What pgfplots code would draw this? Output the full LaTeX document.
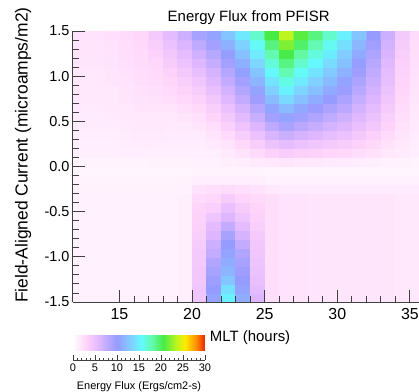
\documentclass[border=0pt]{standalone}
\usepackage{pgfplots}
\pgfplotsset{compat=1.18}
\usepackage{pgfplotstable}
\usepackage{fontspec}
\setmainfont{Liberation Sans}
\pgfplotstableread[row sep=\\]{
x y z\\
11.5 -1.45 1.0\\ 12.5 -1.45 1.0\\ 13.5 -1.45 1.0\\ 14.5 -1.45 1.0\\ 15.5 -1.45 1.0\\ 16.5 -1.45 1.0\\ 17.5 -1.45 1.0\\ 18.5 -1.45 1.0\\ 19.5 -1.45 1.1\\ 20.5 -1.45 4.5\\ 21.5 -1.45 10.5\\ 22.5 -1.45 15.0\\ 23.5 -1.45 11.0\\ 24.5 -1.45 6.0\\ 25.5 -1.45 2.3\\ 26.5 -1.45 2.0\\ 27.5 -1.45 2.0\\ 28.5 -1.45 1.9\\ 29.5 -1.45 1.8\\ 30.5 -1.45 1.8\\ 31.5 -1.45 1.8\\ 32.5 -1.45 1.8\\ 33.5 -1.45 1.8\\ 34.5 -1.45 1.7\\ 35.5 -1.45 1.7\\
11.5 -1.35 1.0\\ 12.5 -1.35 1.0\\ 13.5 -1.35 1.0\\ 14.5 -1.35 1.0\\ 15.5 -1.35 1.0\\ 16.5 -1.35 1.0\\ 17.5 -1.35 1.0\\ 18.5 -1.35 1.0\\ 19.5 -1.35 1.1\\ 20.5 -1.35 4.5\\ 21.5 -1.35 10.0\\ 22.5 -1.35 14.0\\ 23.5 -1.35 10.5\\ 24.5 -1.35 5.5\\ 25.5 -1.35 2.3\\ 26.5 -1.35 2.0\\ 27.5 -1.35 2.0\\ 28.5 -1.35 1.9\\ 29.5 -1.35 1.8\\ 30.5 -1.35 1.8\\ 31.5 -1.35 1.8\\ 32.5 -1.35 1.8\\ 33.5 -1.35 1.8\\ 34.5 -1.35 1.7\\ 35.5 -1.35 1.7\\
11.5 -1.25 1.0\\ 12.5 -1.25 1.0\\ 13.5 -1.25 1.0\\ 14.5 -1.25 1.0\\ 15.5 -1.25 1.0\\ 16.5 -1.25 1.0\\ 17.5 -1.25 1.0\\ 18.5 -1.25 1.0\\ 19.5 -1.25 1.1\\ 20.5 -1.25 4.3\\ 21.5 -1.25 9.5\\ 22.5 -1.25 12.5\\ 23.5 -1.25 10.0\\ 24.5 -1.25 5.0\\ 25.5 -1.25 2.3\\ 26.5 -1.25 2.0\\ 27.5 -1.25 2.0\\ 28.5 -1.25 1.9\\ 29.5 -1.25 1.8\\ 30.5 -1.25 1.8\\ 31.5 -1.25 1.8\\ 32.5 -1.25 1.8\\ 33.5 -1.25 1.8\\ 34.5 -1.25 1.7\\ 35.5 -1.25 1.7\\
11.5 -1.15 1.0\\ 12.5 -1.15 1.0\\ 13.5 -1.15 1.0\\ 14.5 -1.15 1.0\\ 15.5 -1.15 1.0\\ 16.5 -1.15 1.0\\ 17.5 -1.15 1.0\\ 18.5 -1.15 1.0\\ 19.5 -1.15 1.1\\ 20.5 -1.15 4.2\\ 21.5 -1.15 9.0\\ 22.5 -1.15 11.5\\ 23.5 -1.15 9.5\\ 24.5 -1.15 4.8\\ 25.5 -1.15 2.3\\ 26.5 -1.15 2.0\\ 27.5 -1.15 2.0\\ 28.5 -1.15 1.9\\ 29.5 -1.15 1.8\\ 30.5 -1.15 1.8\\ 31.5 -1.15 1.8\\ 32.5 -1.15 1.8\\ 33.5 -1.15 1.8\\ 34.5 -1.15 1.7\\ 35.5 -1.15 1.7\\
11.5 -1.05 1.0\\ 12.5 -1.05 1.0\\ 13.5 -1.05 1.0\\ 14.5 -1.05 1.0\\ 15.5 -1.05 1.0\\ 16.5 -1.05 1.0\\ 17.5 -1.05 1.0\\ 18.5 -1.05 1.0\\ 19.5 -1.05 1.1\\ 20.5 -1.05 4.0\\ 21.5 -1.05 8.5\\ 22.5 -1.05 11.0\\ 23.5 -1.05 9.0\\ 24.5 -1.05 4.6\\ 25.5 -1.05 2.3\\ 26.5 -1.05 2.0\\ 27.5 -1.05 2.0\\ 28.5 -1.05 1.9\\ 29.5 -1.05 1.8\\ 30.5 -1.05 1.8\\ 31.5 -1.05 1.8\\ 32.5 -1.05 1.8\\ 33.5 -1.05 1.8\\ 34.5 -1.05 1.7\\ 35.5 -1.05 1.7\\
11.5 -0.95 1.0\\ 12.5 -0.95 1.0\\ 13.5 -0.95 1.0\\ 14.5 -0.95 1.0\\ 15.5 -0.95 1.0\\ 16.5 -0.95 1.0\\ 17.5 -0.95 1.0\\ 18.5 -0.95 1.0\\ 19.5 -0.95 1.1\\ 20.5 -0.95 4.0\\ 21.5 -0.95 7.5\\ 22.5 -0.95 10.5\\ 23.5 -0.95 8.5\\ 24.5 -0.95 4.4\\ 25.5 -0.95 2.3\\ 26.5 -0.95 2.0\\ 27.5 -0.95 2.0\\ 28.5 -0.95 1.9\\ 29.5 -0.95 1.8\\ 30.5 -0.95 1.8\\ 31.5 -0.95 1.8\\ 32.5 -0.95 1.8\\ 33.5 -0.95 1.8\\ 34.5 -0.95 1.7\\ 35.5 -0.95 1.7\\
11.5 -0.85 1.0\\ 12.5 -0.85 1.0\\ 13.5 -0.85 1.0\\ 14.5 -0.85 1.0\\ 15.5 -0.85 1.0\\ 16.5 -0.85 1.0\\ 17.5 -0.85 1.0\\ 18.5 -0.85 1.0\\ 19.5 -0.85 1.1\\ 20.5 -0.85 3.8\\ 21.5 -0.85 7.0\\ 22.5 -0.85 10.0\\ 23.5 -0.85 7.5\\ 24.5 -0.85 4.2\\ 25.5 -0.85 2.3\\ 26.5 -0.85 2.0\\ 27.5 -0.85 2.0\\ 28.5 -0.85 1.9\\ 29.5 -0.85 1.8\\ 30.5 -0.85 1.8\\ 31.5 -0.85 1.8\\ 32.5 -0.85 1.8\\ 33.5 -0.85 1.8\\ 34.5 -0.85 1.7\\ 35.5 -0.85 1.7\\
11.5 -0.75 1.0\\ 12.5 -0.75 1.0\\ 13.5 -0.75 1.0\\ 14.5 -0.75 1.0\\ 15.5 -0.75 1.0\\ 16.5 -0.75 1.0\\ 17.5 -0.75 1.0\\ 18.5 -0.75 1.0\\ 19.5 -0.75 1.1\\ 20.5 -0.75 3.6\\ 21.5 -0.75 6.0\\ 22.5 -0.75 9.0\\ 23.5 -0.75 6.5\\ 24.5 -0.75 4.0\\ 25.5 -0.75 2.3\\ 26.5 -0.75 2.0\\ 27.5 -0.75 2.0\\ 28.5 -0.75 1.9\\ 29.5 -0.75 1.8\\ 30.5 -0.75 1.8\\ 31.5 -0.75 1.8\\ 32.5 -0.75 1.8\\ 33.5 -0.75 1.8\\ 34.5 -0.75 1.7\\ 35.5 -0.75 1.7\\
11.5 -0.65 1.0\\ 12.5 -0.65 1.0\\ 13.5 -0.65 1.0\\ 14.5 -0.65 1.0\\ 15.5 -0.65 1.0\\ 16.5 -0.65 1.0\\ 17.5 -0.65 1.0\\ 18.5 -0.65 1.0\\ 19.5 -0.65 1.1\\ 20.5 -0.65 3.4\\ 21.5 -0.65 5.5\\ 22.5 -0.65 7.5\\ 23.5 -0.65 5.5\\ 24.5 -0.65 3.6\\ 25.5 -0.65 2.3\\ 26.5 -0.65 2.0\\ 27.5 -0.65 2.0\\ 28.5 -0.65 1.9\\ 29.5 -0.65 1.8\\ 30.5 -0.65 1.8\\ 31.5 -0.65 1.8\\ 32.5 -0.65 1.8\\ 33.5 -0.65 1.8\\ 34.5 -0.65 1.7\\ 35.5 -0.65 1.7\\
11.5 -0.55 1.0\\ 12.5 -0.55 1.0\\ 13.5 -0.55 1.0\\ 14.5 -0.55 1.0\\ 15.5 -0.55 1.0\\ 16.5 -0.55 1.0\\ 17.5 -0.55 1.0\\ 18.5 -0.55 1.0\\ 19.5 -0.55 1.1\\ 20.5 -0.55 3.2\\ 21.5 -0.55 4.5\\ 22.5 -0.55 6.0\\ 23.5 -0.55 4.5\\ 24.5 -0.55 3.3\\ 25.5 -0.55 2.3\\ 26.5 -0.55 2.0\\ 27.5 -0.55 2.0\\ 28.5 -0.55 1.9\\ 29.5 -0.55 1.8\\ 30.5 -0.55 1.8\\ 31.5 -0.55 1.8\\ 32.5 -0.55 1.8\\ 33.5 -0.55 1.8\\ 34.5 -0.55 1.7\\ 35.5 -0.55 1.7\\
11.5 -0.45 1.0\\ 12.5 -0.45 1.0\\ 13.5 -0.45 1.0\\ 14.5 -0.45 1.0\\ 15.5 -0.45 1.0\\ 16.5 -0.45 1.0\\ 17.5 -0.45 1.0\\ 18.5 -0.45 1.0\\ 19.5 -0.45 1.1\\ 20.5 -0.45 3.0\\ 21.5 -0.45 3.5\\ 22.5 -0.45 5.0\\ 23.5 -0.45 3.8\\ 24.5 -0.45 3.0\\ 25.5 -0.45 2.3\\ 26.5 -0.45 2.0\\ 27.5 -0.45 2.0\\ 28.5 -0.45 1.9\\ 29.5 -0.45 1.8\\ 30.5 -0.45 1.8\\ 31.5 -0.45 1.8\\ 32.5 -0.45 1.8\\ 33.5 -0.45 1.8\\ 34.5 -0.45 1.7\\ 35.5 -0.45 1.7\\
11.5 -0.35 1.0\\ 12.5 -0.35 1.0\\ 13.5 -0.35 1.0\\ 14.5 -0.35 1.0\\ 15.5 -0.35 1.0\\ 16.5 -0.35 1.0\\ 17.5 -0.35 1.0\\ 18.5 -0.35 1.0\\ 19.5 -0.35 1.1\\ 20.5 -0.35 2.6\\ 21.5 -0.35 2.8\\ 22.5 -0.35 3.8\\ 23.5 -0.35 3.0\\ 24.5 -0.35 2.6\\ 25.5 -0.35 2.3\\ 26.5 -0.35 2.0\\ 27.5 -0.35 2.0\\ 28.5 -0.35 1.9\\ 29.5 -0.35 1.8\\ 30.5 -0.35 1.8\\ 31.5 -0.35 1.8\\ 32.5 -0.35 1.8\\ 33.5 -0.35 1.8\\ 34.5 -0.35 1.7\\ 35.5 -0.35 1.7\\
11.5 -0.25 0.9\\ 12.5 -0.25 0.9\\ 13.5 -0.25 0.9\\ 14.5 -0.25 0.9\\ 15.5 -0.25 0.9\\ 16.5 -0.25 0.9\\ 17.5 -0.25 0.9\\ 18.5 -0.25 0.9\\ 19.5 -0.25 1.0\\ 20.5 -0.25 2.0\\ 21.5 -0.25 2.2\\ 22.5 -0.25 2.5\\ 23.5 -0.25 2.2\\ 24.5 -0.25 2.0\\ 25.5 -0.25 1.6\\ 26.5 -0.25 1.4\\ 27.5 -0.25 1.4\\ 28.5 -0.25 1.4\\ 29.5 -0.25 1.4\\ 30.5 -0.25 1.4\\ 31.5 -0.25 1.4\\ 32.5 -0.25 1.4\\ 33.5 -0.25 1.4\\ 34.5 -0.25 1.4\\ 35.5 -0.25 1.4\\
11.5 -0.15 0.8\\ 12.5 -0.15 0.8\\ 13.5 -0.15 0.8\\ 14.5 -0.15 0.8\\ 15.5 -0.15 0.8\\ 16.5 -0.15 0.8\\ 17.5 -0.15 0.8\\ 18.5 -0.15 0.8\\ 19.5 -0.15 0.9\\ 20.5 -0.15 1.2\\ 21.5 -0.15 1.2\\ 22.5 -0.15 1.2\\ 23.5 -0.15 1.2\\ 24.5 -0.15 1.2\\ 25.5 -0.15 1.0\\ 26.5 -0.15 1.0\\ 27.5 -0.15 1.0\\ 28.5 -0.15 1.0\\ 29.5 -0.15 1.0\\ 30.5 -0.15 1.0\\ 31.5 -0.15 1.0\\ 32.5 -0.15 1.0\\ 33.5 -0.15 1.0\\ 34.5 -0.15 1.0\\ 35.5 -0.15 1.0\\
11.5 -0.05 0.7\\ 12.5 -0.05 0.7\\ 13.5 -0.05 0.7\\ 14.5 -0.05 0.7\\ 15.5 -0.05 0.7\\ 16.5 -0.05 0.7\\ 17.5 -0.05 0.7\\ 18.5 -0.05 0.7\\ 19.5 -0.05 0.7\\ 20.5 -0.05 0.8\\ 21.5 -0.05 0.8\\ 22.5 -0.05 0.8\\ 23.5 -0.05 0.8\\ 24.5 -0.05 0.8\\ 25.5 -0.05 0.7\\ 26.5 -0.05 0.7\\ 27.5 -0.05 0.7\\ 28.5 -0.05 0.7\\ 29.5 -0.05 0.7\\ 30.5 -0.05 0.7\\ 31.5 -0.05 0.7\\ 32.5 -0.05 0.7\\ 33.5 -0.05 0.7\\ 34.5 -0.05 0.7\\ 35.5 -0.05 0.7\\
11.5 0.05 0.8\\ 12.5 0.05 0.8\\ 13.5 0.05 0.8\\ 14.5 0.05 0.8\\ 15.5 0.05 0.8\\ 16.5 0.05 0.8\\ 17.5 0.05 0.9\\ 18.5 0.05 0.9\\ 19.5 0.05 0.9\\ 20.5 0.05 1.0\\ 21.5 0.05 1.0\\ 22.5 0.05 1.1\\ 23.5 0.05 1.3\\ 24.5 0.05 1.5\\ 25.5 0.05 1.7\\ 26.5 0.05 1.8\\ 27.5 0.05 1.7\\ 28.5 0.05 1.6\\ 29.5 0.05 1.5\\ 30.5 0.05 1.4\\ 31.5 0.05 1.3\\ 32.5 0.05 1.2\\ 33.5 0.05 1.0\\ 34.5 0.05 0.9\\ 35.5 0.05 0.8\\
11.5 0.15 1.1\\ 12.5 0.15 1.1\\ 13.5 0.15 1.1\\ 14.5 0.15 1.1\\ 15.5 0.15 1.2\\ 16.5 0.15 1.2\\ 17.5 0.15 1.2\\ 18.5 0.15 1.2\\ 19.5 0.15 1.2\\ 20.5 0.15 1.2\\ 21.5 0.15 1.2\\ 22.5 0.15 1.5\\ 23.5 0.15 2.0\\ 24.5 0.15 2.6\\ 25.5 0.15 3.3\\ 26.5 0.15 3.7\\ 27.5 0.15 3.4\\ 28.5 0.15 3.2\\ 29.5 0.15 2.9\\ 30.5 0.15 2.7\\ 31.5 0.15 2.4\\ 32.5 0.15 2.1\\ 33.5 0.15 1.7\\ 34.5 0.15 1.4\\ 35.5 0.15 1.2\\
11.5 0.25 1.2\\ 12.5 0.25 1.2\\ 13.5 0.25 1.2\\ 14.5 0.25 1.2\\ 15.5 0.25 1.3\\ 16.5 0.25 1.4\\ 17.5 0.25 1.3\\ 18.5 0.25 1.3\\ 19.5 0.25 1.3\\ 20.5 0.25 1.3\\ 21.5 0.25 1.5\\ 22.5 0.25 2.0\\ 23.5 0.25 2.7\\ 24.5 0.25 3.6\\ 25.5 0.25 4.7\\ 26.5 0.25 5.3\\ 27.5 0.25 4.8\\ 28.5 0.25 4.4\\ 29.5 0.25 4.0\\ 30.5 0.25 3.7\\ 31.5 0.25 3.2\\ 32.5 0.25 2.7\\ 33.5 0.25 2.1\\ 34.5 0.25 1.6\\ 35.5 0.25 1.3\\
11.5 0.35 1.3\\ 12.5 0.35 1.3\\ 13.5 0.35 1.3\\ 14.5 0.35 1.3\\ 15.5 0.35 1.4\\ 16.5 0.35 1.5\\ 17.5 0.35 1.5\\ 18.5 0.35 1.4\\ 19.5 0.35 1.4\\ 20.5 0.35 1.4\\ 21.5 0.35 1.9\\ 22.5 0.35 2.6\\ 23.5 0.35 3.6\\ 24.5 0.35 4.8\\ 25.5 0.35 6.3\\ 26.5 0.35 7.1\\ 27.5 0.35 6.4\\ 28.5 0.35 5.9\\ 29.5 0.35 5.3\\ 30.5 0.35 4.8\\ 31.5 0.35 4.1\\ 32.5 0.35 3.4\\ 33.5 0.35 2.6\\ 34.5 0.35 1.8\\ 35.5 0.35 1.4\\
11.5 0.45 1.4\\ 12.5 0.45 1.4\\ 13.5 0.45 1.4\\ 14.5 0.45 1.4\\ 15.5 0.45 1.5\\ 16.5 0.45 1.6\\ 17.5 0.45 1.6\\ 18.5 0.45 1.5\\ 19.5 0.45 1.6\\ 20.5 0.45 1.8\\ 21.5 0.45 2.4\\ 22.5 0.45 3.4\\ 23.5 0.45 4.6\\ 24.5 0.45 6.0\\ 25.5 0.45 7.8\\ 26.5 0.45 8.9\\ 27.5 0.45 8.0\\ 28.5 0.45 7.3\\ 29.5 0.45 6.6\\ 30.5 0.45 5.9\\ 31.5 0.45 5.0\\ 32.5 0.45 4.2\\ 33.5 0.45 3.1\\ 34.5 0.45 2.1\\ 35.5 0.45 1.5\\
11.5 0.55 1.4\\ 12.5 0.55 1.4\\ 13.5 0.55 1.4\\ 14.5 0.55 1.5\\ 15.5 0.55 1.6\\ 16.5 0.55 1.7\\ 17.5 0.55 1.7\\ 18.5 0.55 1.7\\ 19.5 0.55 1.9\\ 20.5 0.55 2.2\\ 21.5 0.55 3.0\\ 22.5 0.55 4.1\\ 23.5 0.55 5.6\\ 24.5 0.55 7.2\\ 25.5 0.55 9.2\\ 26.5 0.55 10.5\\ 27.5 0.55 9.4\\ 28.5 0.55 8.6\\ 29.5 0.55 7.7\\ 30.5 0.55 6.9\\ 31.5 0.55 5.8\\ 32.5 0.55 4.8\\ 33.5 0.55 3.5\\ 34.5 0.55 2.3\\ 35.5 0.55 1.6\\
11.5 0.65 1.5\\ 12.5 0.65 1.5\\ 13.5 0.65 1.5\\ 14.5 0.65 1.6\\ 15.5 0.65 1.7\\ 16.5 0.65 1.9\\ 17.5 0.65 1.9\\ 18.5 0.65 1.9\\ 19.5 0.65 2.3\\ 20.5 0.65 2.7\\ 21.5 0.65 3.6\\ 22.5 0.65 4.9\\ 23.5 0.65 6.5\\ 24.5 0.65 8.3\\ 25.5 0.65 10.6\\ 26.5 0.65 12.0\\ 27.5 0.65 10.8\\ 28.5 0.65 9.8\\ 29.5 0.65 8.8\\ 30.5 0.65 7.9\\ 31.5 0.65 6.6\\ 32.5 0.65 5.4\\ 33.5 0.65 3.9\\ 34.5 0.65 2.5\\ 35.5 0.65 1.7\\
11.5 0.75 1.6\\ 12.5 0.75 1.6\\ 13.5 0.75 1.6\\ 14.5 0.75 1.7\\ 15.5 0.75 1.8\\ 16.5 0.75 2.0\\ 17.5 0.75 2.1\\ 18.5 0.75 2.3\\ 19.5 0.75 2.7\\ 20.5 0.75 3.2\\ 21.5 0.75 4.3\\ 22.5 0.75 5.8\\ 23.5 0.75 7.5\\ 24.5 0.75 9.5\\ 25.5 0.75 11.9\\ 26.5 0.75 13.6\\ 27.5 0.75 12.2\\ 28.5 0.75 11.1\\ 29.5 0.75 10.0\\ 30.5 0.75 8.8\\ 31.5 0.75 7.4\\ 32.5 0.75 6.0\\ 33.5 0.75 4.4\\ 34.5 0.75 2.7\\ 35.5 0.75 1.8\\
11.5 0.85 1.6\\ 12.5 0.85 1.6\\ 13.5 0.85 1.6\\ 14.5 0.85 1.7\\ 15.5 0.85 1.9\\ 16.5 0.85 2.1\\ 17.5 0.85 2.3\\ 18.5 0.85 2.6\\ 19.5 0.85 3.1\\ 20.5 0.85 3.8\\ 21.5 0.85 5.0\\ 22.5 0.85 6.6\\ 23.5 0.85 8.4\\ 24.5 0.85 10.5\\ 25.5 0.85 13.1\\ 26.5 0.85 15.0\\ 27.5 0.85 13.4\\ 28.5 0.85 12.2\\ 29.5 0.85 10.9\\ 30.5 0.85 9.7\\ 31.5 0.85 8.1\\ 32.5 0.85 6.6\\ 33.5 0.85 4.7\\ 34.5 0.85 2.9\\ 35.5 0.85 1.9\\
11.5 0.95 1.7\\ 12.5 0.95 1.7\\ 13.5 0.95 1.7\\ 14.5 0.95 1.8\\ 15.5 0.95 2.0\\ 16.5 0.95 2.3\\ 17.5 0.95 2.5\\ 18.5 0.95 2.9\\ 19.5 0.95 3.6\\ 20.5 0.95 4.4\\ 21.5 0.95 5.8\\ 22.5 0.95 7.5\\ 23.5 0.95 9.3\\ 24.5 0.95 11.5\\ 25.5 0.95 14.3\\ 26.5 0.95 16.3\\ 27.5 0.95 14.6\\ 28.5 0.95 13.2\\ 29.5 0.95 11.9\\ 30.5 0.95 10.5\\ 31.5 0.95 8.8\\ 32.5 0.95 7.1\\ 33.5 0.95 5.1\\ 34.5 0.95 3.0\\ 35.5 0.95 2.0\\
11.5 1.05 1.7\\ 12.5 1.05 1.7\\ 13.5 1.05 1.7\\ 14.5 1.05 1.9\\ 15.5 1.05 2.1\\ 16.5 1.05 2.4\\ 17.5 1.05 2.6\\ 18.5 1.05 3.3\\ 19.5 1.05 4.1\\ 20.5 1.05 5.1\\ 21.5 1.05 6.5\\ 22.5 1.05 8.3\\ 23.5 1.05 10.3\\ 24.5 1.05 12.5\\ 25.5 1.05 15.4\\ 26.5 1.05 17.7\\ 27.5 1.05 15.8\\ 28.5 1.05 14.3\\ 29.5 1.05 12.8\\ 30.5 1.05 11.4\\ 31.5 1.05 9.5\\ 32.5 1.05 7.7\\ 33.5 1.05 5.4\\ 34.5 1.05 3.2\\ 35.5 1.05 2.1\\
11.5 1.15 1.8\\ 12.5 1.15 1.8\\ 13.5 1.15 1.8\\ 14.5 1.15 2.0\\ 15.5 1.15 2.2\\ 16.5 1.15 2.5\\ 17.5 1.15 2.8\\ 18.5 1.15 3.8\\ 19.5 1.15 4.7\\ 20.5 1.15 5.9\\ 21.5 1.15 7.4\\ 22.5 1.15 9.2\\ 23.5 1.15 11.2\\ 24.5 1.15 13.5\\ 25.5 1.15 16.6\\ 26.5 1.15 19.0\\ 27.5 1.15 17.0\\ 28.5 1.15 15.4\\ 29.5 1.15 13.8\\ 30.5 1.15 12.2\\ 31.5 1.15 10.2\\ 32.5 1.15 8.2\\ 33.5 1.15 5.8\\ 34.5 1.15 3.4\\ 35.5 1.15 2.2\\
11.5 1.25 1.9\\ 12.5 1.25 1.9\\ 13.5 1.25 1.9\\ 14.5 1.25 2.0\\ 15.5 1.25 2.3\\ 16.5 1.25 2.6\\ 17.5 1.25 3.2\\ 18.5 1.25 4.2\\ 19.5 1.25 5.3\\ 20.5 1.25 6.7\\ 21.5 1.25 8.2\\ 22.5 1.25 10.2\\ 23.5 1.25 12.2\\ 24.5 1.25 14.6\\ 25.5 1.25 17.8\\ 26.5 1.25 20.4\\ 27.5 1.25 18.2\\ 28.5 1.25 16.5\\ 29.5 1.25 14.8\\ 30.5 1.25 13.0\\ 31.5 1.25 10.9\\ 32.5 1.25 8.7\\ 33.5 1.25 6.2\\ 34.5 1.25 3.6\\ 35.5 1.25 2.3\\
11.5 1.35 1.9\\ 12.5 1.35 1.9\\ 13.5 1.35 1.9\\ 14.5 1.35 2.1\\ 15.5 1.35 2.4\\ 16.5 1.35 2.7\\ 17.5 1.35 3.6\\ 18.5 1.35 4.8\\ 19.5 1.35 6.1\\ 20.5 1.35 7.8\\ 21.5 1.35 9.3\\ 22.5 1.35 11.3\\ 23.5 1.35 13.3\\ 24.5 1.35 15.8\\ 25.5 1.35 19.1\\ 26.5 1.35 21.9\\ 27.5 1.35 19.6\\ 28.5 1.35 17.7\\ 29.5 1.35 15.9\\ 30.5 1.35 14.0\\ 31.5 1.35 11.7\\ 32.5 1.35 9.4\\ 33.5 1.35 6.6\\ 34.5 1.35 3.8\\ 35.5 1.35 2.4\\
11.5 1.45 2.0\\ 12.5 1.45 2.0\\ 13.5 1.45 2.0\\ 14.5 1.45 2.2\\ 15.5 1.45 2.5\\ 16.5 1.45 2.8\\ 17.5 1.45 4.0\\ 18.5 1.45 5.5\\ 19.5 1.45 7.0\\ 20.5 1.45 9.0\\ 21.5 1.45 10.5\\ 22.5 1.45 12.5\\ 23.5 1.45 14.5\\ 24.5 1.45 17.0\\ 25.5 1.45 20.5\\ 26.5 1.45 23.5\\ 27.5 1.45 21.0\\ 28.5 1.45 19.0\\ 29.5 1.45 17.0\\ 30.5 1.45 15.0\\ 31.5 1.45 12.5\\ 32.5 1.45 10.0\\ 33.5 1.45 7.0\\ 34.5 1.45 4.0\\ 35.5 1.45 2.5\\
}\fluxdata
\begin{document}
\begin{tikzpicture}
\useasboundingbox (-73bp,-90bp) rectangle (346bp,302bp);
\begin{axis}[
  at={(0bp,0bp)}, anchor=south west,
  scale only axis, width=351.4bp, height=271bp,
  xmin=11.8, xmax=36, ymin=-1.5, ymax=1.5,
  axis on top,
  axis x line*=bottom, axis y line*=left,
  axis line style={black!75, line width=1bp},
  xtick={15,20,25,30,35}, minor x tick num=4,
  ytick={-1.5,-1,-0.5,0,0.5,1,1.5}, minor y tick num=4,
  tick align=inside, major tick length=12bp, minor tick length=6bp,
  tick style={black!75, line width=0.9bp},
  /pgf/number format/assume math mode=true,
  yticklabel style={/pgf/number format/fixed, /pgf/number format/fixed zerofill, /pgf/number format/precision=1, font=\fontsize{14.5}{14.5}\selectfont},
  xticklabel style={font=\fontsize{16}{16}\selectfont, yshift=-3bp},
  title={Energy Flux from PFISR},
  title style={font=\fontsize{15}{15}\selectfont, yshift=-3bp},
  xlabel={MLT (hours)},
  xlabel style={at={(axis description cs:0.504,-0.133)}, anchor=center, font=\fontsize{15}{15}\selectfont},
  ylabel={Field-Aligned Current (microamps/m2)},
  ylabel style={at={(axis description cs:-0.142,0.542)}, anchor=center, font=\fontsize{17.5}{17.5}\selectfont},
  colormap={pfisr}{rgb255(0)=(255,255,255); rgb255(30)=(255,212,250); rgb255(60)=(222,182,255); rgb255(100)=(150,155,255); rgb255(130)=(130,205,255); rgb255(155)=(100,250,255); rgb255(180)=(100,250,170); rgb255(205)=(70,235,70); rgb255(235)=(190,245,30); rgb255(255)=(255,235,0); rgb255(280)=(255,140,0); rgb255(300)=(235,35,0)},
  point meta min=0, point meta max=30,
  colorbar horizontal,
  colorbar shift/.style={},
  colorbar style={colorbar shift/.style={}, at={(parent axis.south west)}, anchor=north west, yshift=-30bp, scale only axis, width=132bp, height=18bp, xtick=\empty, ytick=\empty, axis line style={draw=none}},
]
\addplot[matrix plot*, shader=faceted, faceted color=mapped color, line width=0.3bp, mesh/cols=25, point meta=explicit] table[x=x, y=y, meta=z]{\fluxdata};
\end{axis}
\begin{axis}[
  at={(0bp,-58bp)}, anchor=south west,
  scale only axis, width=132bp, height=5bp,
  xmin=0, xmax=30, ymin=0, ymax=1,
  axis x line*=bottom, axis y line=none,
  axis line style={black!75, line width=0.8bp},
  xtick={0,5,10,15,20,25,30}, minor x tick num=4,
  tick align=inside, major tick length=5bp, minor tick length=2.5bp,
  tick style={black!75, line width=0.6bp},
  /pgf/number format/assume math mode=true,
  xticklabel style={font=\fontsize{11}{11}\selectfont, inner sep=1.5bp, yshift=-2bp},
  xlabel={Energy Flux (Ergs/cm2-s)},
  xlabel style={at={(axis description cs:0.5,0)}, anchor=center, yshift=-27bp, font=\fontsize{11}{11}\selectfont},
]
\end{axis}
\end{tikzpicture}
\end{document}
